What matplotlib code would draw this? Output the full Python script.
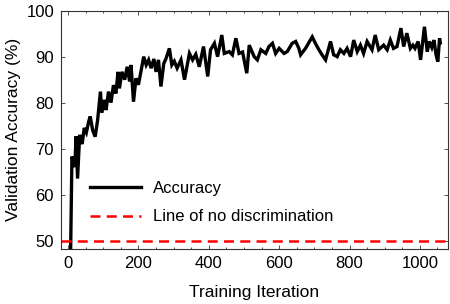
import matplotlib
matplotlib.use("Agg")
import matplotlib.pyplot as plt
from matplotlib.ticker import MultipleLocator

plt.rcParams['font.family'] = ['Liberation Sans', 'DejaVu Sans']

iterations = [5, 11, 19, 23, 27, 33, 40, 46, 52, 59, 63, 70, 77, 84, 92, 96, 103, 108,
              115, 122, 129, 136, 142, 146, 153, 161, 168, 175, 179, 186, 193, 200,
              208, 215, 222, 229, 236, 244, 250, 257, 264, 272, 278, 288, 295, 302,
              310, 321, 331, 345, 354, 363, 373, 385, 397, 405, 416, 425, 437, 444,
              458, 467, 477, 486, 496, 508, 515, 529, 538, 548, 562, 571, 581, 590,
              600, 614, 623, 637, 647, 656, 661, 675, 694, 703, 713, 722, 732, 746,
              755, 765, 774, 784, 793, 803, 812, 822, 831, 840, 850, 864, 873, 883,
              897, 907, 916, 925, 935, 946, 954, 963, 973, 980, 986, 995, 1002, 1013,
              1021, 1027, 1034, 1040, 1046, 1051, 1056, 1058]
accuracy = [35.0, 68.3, 66.0, 72.7, 63.5, 73.0, 71.0, 74.5, 73.5, 76.0, 77.0, 74.0, 72.6,
            76.2, 82.4, 77.8, 80.6, 78.4, 82.4, 80.0, 83.8, 82.0, 86.7, 83.1, 86.7, 85.0,
            87.8, 84.6, 88.2, 80.2, 85.3, 83.9, 87.1, 90.0, 88.2, 89.3, 87.5, 89.5, 86.7,
            89.3, 83.5, 88.5, 89.5, 91.8, 88.2, 89.0, 87.5, 89.3, 85.0, 90.7, 89.3, 90.5,
            87.8, 92.2, 85.7, 91.5, 92.9, 90.0, 94.7, 90.7, 91.1, 90.4, 94.0, 90.7, 91.0,
            86.4, 92.5, 90.0, 89.3, 91.5, 90.7, 92.2, 92.9, 90.7, 91.8, 90.7, 91.1, 92.9,
            93.3, 91.8, 90.4, 91.8, 94.3, 92.9, 91.5, 90.4, 89.3, 93.3, 90.4, 90.0, 91.5,
            90.7, 91.8, 90.0, 93.6, 91.1, 92.5, 90.7, 93.3, 91.5, 94.7, 91.5, 92.5, 91.5,
            93.6, 91.8, 92.2, 96.2, 92.2, 95.1, 91.8, 92.5, 91.8, 93.3, 89.3, 96.5, 91.1,
            93.3, 92.0, 93.6, 90.4, 88.9, 94.0, 93.0]
baseline_x = [-20, 1080]
baseline_y = [50, 50]

fig = plt.figure(figsize=(4.5, 3.04), dpi=100)
ax = fig.add_axes([0.1356, 0.181, 0.8600, 0.784])

ax.plot(iterations, accuracy, color='black', linewidth=2.4, label='Accuracy',
        solid_joinstyle='miter')
ax.plot(baseline_x, baseline_y, color='red', linewidth=1.8, linestyle=(0, (4, 2.5)),
        label='Line of no discrimination')

ax.set_xlim(-20, 1080)
ax.set_ylim(48.2, 100)
ax.set_xticks([0, 200, 400, 600, 800, 1000])
ax.set_yticks([50, 60, 70, 80, 90, 100])
ax.xaxis.set_minor_locator(MultipleLocator(50))
ax.tick_params(which='both', direction='in', top=True, right=True, labelsize=12,
               width=0.6, colors='#333333', labelcolor='black')
ax.tick_params(which='major', length=3, pad=5)
ax.tick_params(which='minor', length=1.5)
for s in ax.spines.values():
    s.set_linewidth(0.8)
    s.set_color('#333333')

ax.set_xlabel('Training Iteration', fontsize=12.5, labelpad=10)
ax.set_ylabel('Validation Accuracy (%)', fontsize=12.5, labelpad=4)

ax.legend(loc='lower left', bbox_to_anchor=(0.035, 0.04), frameon=False, fontsize=12,
          handlelength=3.1, handletextpad=0.7, labelspacing=0.8)

fig.savefig('out.png', dpi=100)
